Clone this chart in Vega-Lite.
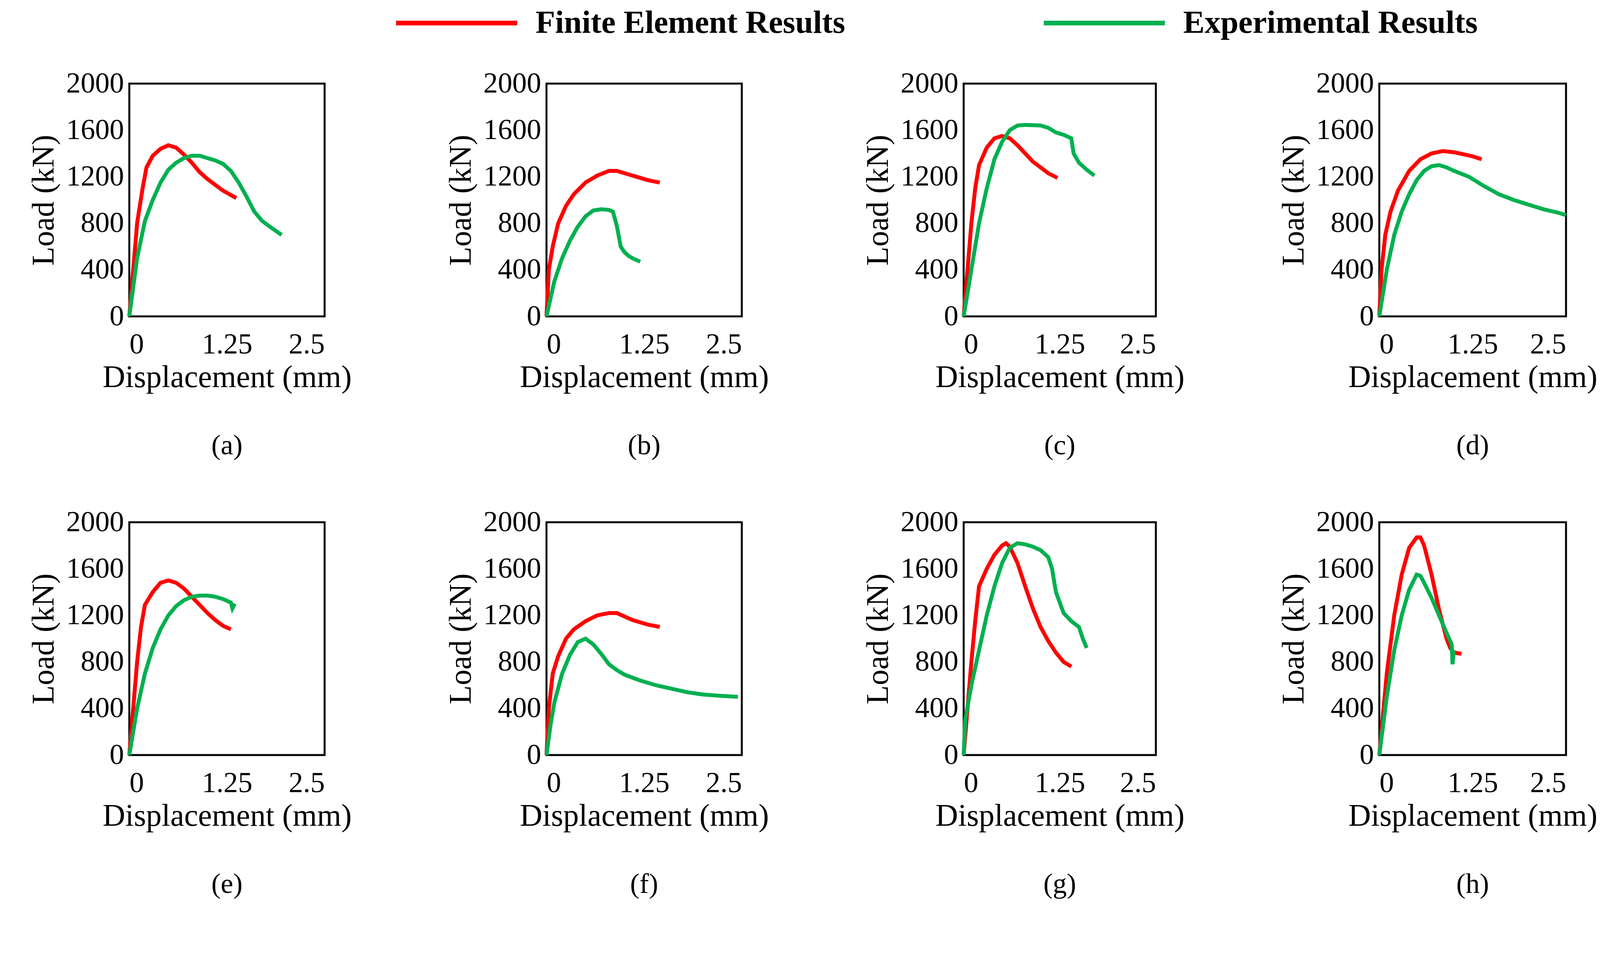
{
"$schema":"https://vega.github.io/schema/vega-lite/v6.json",
"background":"white",
"padding":{"left":69,"top":18,"right":0,"bottom":0},
"config":{"font":"Liberation Serif","view":{"stroke":"black","strokeWidth":5},
"axis":{"grid":false,"domain":false,"ticks":false,"labelFont":"Liberation Serif","titleFont":"Liberation Serif","labelFontSize":74,"titleFontSize":80,"titleFontWeight":"normal","labelColor":"black","titleColor":"black","labelPadding":14},
"axisX":{"labelPadding":36,"titlePadding":8},
"axisY":{"titlePadding":16},
"title":{"font":"Liberation Serif","fontSize":72,"fontWeight":"normal","orient":"bottom","offset":100,"color":"black"},
"legend":{"orient":"none","legendX":797,"legendY":-196,"direction":"horizontal","symbolType":"M-5,0H5","symbolSize":3844,"symbolStrokeWidth":12,"labelFont":"Liberation Serif","labelFontSize":82,"labelFontWeight":"bold","labelColor":"black","labelLimit":2000,"columnPadding":484,"labelOffset":161,"title":null}},
"data":{"values":[
{"p":"a","s":"Finite Element Results","x":0,"y":0},{"p":"a","s":"Finite Element Results","x":0.05,"y":400},{"p":"a","s":"Finite Element Results","x":0.1,"y":800},{"p":"a","s":"Finite Element Results","x":0.17,"y":1100},{"p":"a","s":"Finite Element Results","x":0.22,"y":1280},{"p":"a","s":"Finite Element Results","x":0.3,"y":1380},{"p":"a","s":"Finite Element Results","x":0.4,"y":1440},{"p":"a","s":"Finite Element Results","x":0.5,"y":1470},{"p":"a","s":"Finite Element Results","x":0.6,"y":1450},{"p":"a","s":"Finite Element Results","x":0.7,"y":1390},{"p":"a","s":"Finite Element Results","x":0.8,"y":1320},{"p":"a","s":"Finite Element Results","x":0.9,"y":1240},{"p":"a","s":"Finite Element Results","x":1.0,"y":1180},{"p":"a","s":"Finite Element Results","x":1.1,"y":1130},{"p":"a","s":"Finite Element Results","x":1.2,"y":1080},{"p":"a","s":"Finite Element Results","x":1.37,"y":1016},
{"p":"a","s":"Experimental Results","x":0,"y":0},{"p":"a","s":"Experimental Results","x":0.05,"y":250},{"p":"a","s":"Experimental Results","x":0.1,"y":500},{"p":"a","s":"Experimental Results","x":0.2,"y":820},{"p":"a","s":"Experimental Results","x":0.3,"y":1000},{"p":"a","s":"Experimental Results","x":0.4,"y":1150},{"p":"a","s":"Experimental Results","x":0.5,"y":1260},{"p":"a","s":"Experimental Results","x":0.6,"y":1320},{"p":"a","s":"Experimental Results","x":0.7,"y":1360},{"p":"a","s":"Experimental Results","x":0.8,"y":1380},{"p":"a","s":"Experimental Results","x":0.9,"y":1380},{"p":"a","s":"Experimental Results","x":1.0,"y":1360},{"p":"a","s":"Experimental Results","x":1.1,"y":1340},{"p":"a","s":"Experimental Results","x":1.2,"y":1310},{"p":"a","s":"Experimental Results","x":1.3,"y":1250},{"p":"a","s":"Experimental Results","x":1.4,"y":1150},{"p":"a","s":"Experimental Results","x":1.5,"y":1030},{"p":"a","s":"Experimental Results","x":1.6,"y":900},{"p":"a","s":"Experimental Results","x":1.7,"y":820},{"p":"a","s":"Experimental Results","x":1.8,"y":770},{"p":"a","s":"Experimental Results","x":1.95,"y":700},
{"p":"b","s":"Finite Element Results","x":0,"y":0},{"p":"b","s":"Finite Element Results","x":0.03,"y":400},{"p":"b","s":"Finite Element Results","x":0.08,"y":600},{"p":"b","s":"Finite Element Results","x":0.15,"y":800},{"p":"b","s":"Finite Element Results","x":0.25,"y":950},{"p":"b","s":"Finite Element Results","x":0.35,"y":1050},{"p":"b","s":"Finite Element Results","x":0.5,"y":1150},{"p":"b","s":"Finite Element Results","x":0.65,"y":1210},{"p":"b","s":"Finite Element Results","x":0.8,"y":1250},{"p":"b","s":"Finite Element Results","x":0.9,"y":1250},{"p":"b","s":"Finite Element Results","x":1.0,"y":1230},{"p":"b","s":"Finite Element Results","x":1.1,"y":1210},{"p":"b","s":"Finite Element Results","x":1.2,"y":1190},{"p":"b","s":"Finite Element Results","x":1.3,"y":1170},{"p":"b","s":"Finite Element Results","x":1.45,"y":1150},
{"p":"b","s":"Experimental Results","x":0,"y":0},{"p":"b","s":"Experimental Results","x":0.05,"y":150},{"p":"b","s":"Experimental Results","x":0.1,"y":300},{"p":"b","s":"Experimental Results","x":0.2,"y":500},{"p":"b","s":"Experimental Results","x":0.3,"y":650},{"p":"b","s":"Experimental Results","x":0.4,"y":770},{"p":"b","s":"Experimental Results","x":0.5,"y":860},{"p":"b","s":"Experimental Results","x":0.6,"y":910},{"p":"b","s":"Experimental Results","x":0.7,"y":920},{"p":"b","s":"Experimental Results","x":0.8,"y":915},{"p":"b","s":"Experimental Results","x":0.85,"y":900},{"p":"b","s":"Experimental Results","x":0.9,"y":780},{"p":"b","s":"Experimental Results","x":0.95,"y":600},{"p":"b","s":"Experimental Results","x":1.0,"y":550},{"p":"b","s":"Experimental Results","x":1.05,"y":520},{"p":"b","s":"Experimental Results","x":1.1,"y":500},{"p":"b","s":"Experimental Results","x":1.2,"y":470},
{"p":"c","s":"Finite Element Results","x":0,"y":0},{"p":"c","s":"Finite Element Results","x":0.05,"y":400},{"p":"c","s":"Finite Element Results","x":0.1,"y":800},{"p":"c","s":"Finite Element Results","x":0.15,"y":1100},{"p":"c","s":"Finite Element Results","x":0.2,"y":1300},{"p":"c","s":"Finite Element Results","x":0.3,"y":1450},{"p":"c","s":"Finite Element Results","x":0.4,"y":1530},{"p":"c","s":"Finite Element Results","x":0.5,"y":1550},{"p":"c","s":"Finite Element Results","x":0.6,"y":1530},{"p":"c","s":"Finite Element Results","x":0.7,"y":1470},{"p":"c","s":"Finite Element Results","x":0.8,"y":1400},{"p":"c","s":"Finite Element Results","x":0.9,"y":1330},{"p":"c","s":"Finite Element Results","x":1.0,"y":1280},{"p":"c","s":"Finite Element Results","x":1.1,"y":1230},{"p":"c","s":"Finite Element Results","x":1.22,"y":1190},
{"p":"c","s":"Experimental Results","x":0,"y":0},{"p":"c","s":"Experimental Results","x":0.1,"y":400},{"p":"c","s":"Experimental Results","x":0.2,"y":800},{"p":"c","s":"Experimental Results","x":0.3,"y":1100},{"p":"c","s":"Experimental Results","x":0.4,"y":1350},{"p":"c","s":"Experimental Results","x":0.5,"y":1500},{"p":"c","s":"Experimental Results","x":0.6,"y":1600},{"p":"c","s":"Experimental Results","x":0.7,"y":1640},{"p":"c","s":"Experimental Results","x":0.8,"y":1645},{"p":"c","s":"Experimental Results","x":1.0,"y":1640},{"p":"c","s":"Experimental Results","x":1.1,"y":1620},{"p":"c","s":"Experimental Results","x":1.2,"y":1580},{"p":"c","s":"Experimental Results","x":1.3,"y":1560},{"p":"c","s":"Experimental Results","x":1.4,"y":1530},{"p":"c","s":"Experimental Results","x":1.43,"y":1400},{"p":"c","s":"Experimental Results","x":1.5,"y":1320},{"p":"c","s":"Experimental Results","x":1.6,"y":1260},{"p":"c","s":"Experimental Results","x":1.7,"y":1210},
{"p":"d","s":"Finite Element Results","x":0,"y":0},{"p":"d","s":"Finite Element Results","x":0.03,"y":400},{"p":"d","s":"Finite Element Results","x":0.08,"y":700},{"p":"d","s":"Finite Element Results","x":0.15,"y":900},{"p":"d","s":"Finite Element Results","x":0.25,"y":1080},{"p":"d","s":"Finite Element Results","x":0.4,"y":1250},{"p":"d","s":"Finite Element Results","x":0.55,"y":1350},{"p":"d","s":"Finite Element Results","x":0.7,"y":1400},{"p":"d","s":"Finite Element Results","x":0.85,"y":1420},{"p":"d","s":"Finite Element Results","x":1.0,"y":1410},{"p":"d","s":"Finite Element Results","x":1.15,"y":1390},{"p":"d","s":"Finite Element Results","x":1.25,"y":1375},{"p":"d","s":"Finite Element Results","x":1.37,"y":1350},
{"p":"d","s":"Experimental Results","x":0,"y":0},{"p":"d","s":"Experimental Results","x":0.05,"y":200},{"p":"d","s":"Experimental Results","x":0.1,"y":400},{"p":"d","s":"Experimental Results","x":0.2,"y":700},{"p":"d","s":"Experimental Results","x":0.3,"y":900},{"p":"d","s":"Experimental Results","x":0.4,"y":1050},{"p":"d","s":"Experimental Results","x":0.5,"y":1170},{"p":"d","s":"Experimental Results","x":0.6,"y":1250},{"p":"d","s":"Experimental Results","x":0.7,"y":1290},{"p":"d","s":"Experimental Results","x":0.8,"y":1300},{"p":"d","s":"Experimental Results","x":0.9,"y":1280},{"p":"d","s":"Experimental Results","x":1.0,"y":1250},{"p":"d","s":"Experimental Results","x":1.2,"y":1200},{"p":"d","s":"Experimental Results","x":1.4,"y":1120},{"p":"d","s":"Experimental Results","x":1.6,"y":1050},{"p":"d","s":"Experimental Results","x":1.8,"y":1000},{"p":"d","s":"Experimental Results","x":2.0,"y":960},{"p":"d","s":"Experimental Results","x":2.2,"y":920},{"p":"d","s":"Experimental Results","x":2.4,"y":890},{"p":"d","s":"Experimental Results","x":2.5,"y":870},
{"p":"e","s":"Finite Element Results","x":0,"y":0},{"p":"e","s":"Finite Element Results","x":0.05,"y":400},{"p":"e","s":"Finite Element Results","x":0.1,"y":800},{"p":"e","s":"Finite Element Results","x":0.15,"y":1100},{"p":"e","s":"Finite Element Results","x":0.2,"y":1290},{"p":"e","s":"Finite Element Results","x":0.3,"y":1400},{"p":"e","s":"Finite Element Results","x":0.4,"y":1480},{"p":"e","s":"Finite Element Results","x":0.5,"y":1500},{"p":"e","s":"Finite Element Results","x":0.6,"y":1480},{"p":"e","s":"Finite Element Results","x":0.7,"y":1430},{"p":"e","s":"Finite Element Results","x":0.8,"y":1360},{"p":"e","s":"Finite Element Results","x":0.9,"y":1290},{"p":"e","s":"Finite Element Results","x":1.0,"y":1220},{"p":"e","s":"Finite Element Results","x":1.1,"y":1160},{"p":"e","s":"Finite Element Results","x":1.2,"y":1110},{"p":"e","s":"Finite Element Results","x":1.3,"y":1080},
{"p":"e","s":"Experimental Results","x":0,"y":0},{"p":"e","s":"Experimental Results","x":0.05,"y":200},{"p":"e","s":"Experimental Results","x":0.1,"y":400},{"p":"e","s":"Experimental Results","x":0.2,"y":700},{"p":"e","s":"Experimental Results","x":0.3,"y":920},{"p":"e","s":"Experimental Results","x":0.4,"y":1080},{"p":"e","s":"Experimental Results","x":0.5,"y":1200},{"p":"e","s":"Experimental Results","x":0.6,"y":1280},{"p":"e","s":"Experimental Results","x":0.7,"y":1330},{"p":"e","s":"Experimental Results","x":0.8,"y":1360},{"p":"e","s":"Experimental Results","x":0.9,"y":1370},{"p":"e","s":"Experimental Results","x":1.0,"y":1370},{"p":"e","s":"Experimental Results","x":1.1,"y":1360},{"p":"e","s":"Experimental Results","x":1.2,"y":1340},{"p":"e","s":"Experimental Results","x":1.3,"y":1310},{"p":"e","s":"Experimental Results","x":1.32,"y":1260},{"p":"e","s":"Experimental Results","x":1.35,"y":1300},
{"p":"f","s":"Finite Element Results","x":0,"y":0},{"p":"f","s":"Finite Element Results","x":0.03,"y":400},{"p":"f","s":"Finite Element Results","x":0.08,"y":700},{"p":"f","s":"Finite Element Results","x":0.15,"y":850},{"p":"f","s":"Finite Element Results","x":0.25,"y":1000},{"p":"f","s":"Finite Element Results","x":0.35,"y":1080},{"p":"f","s":"Finite Element Results","x":0.5,"y":1150},{"p":"f","s":"Finite Element Results","x":0.65,"y":1200},{"p":"f","s":"Finite Element Results","x":0.8,"y":1220},{"p":"f","s":"Finite Element Results","x":0.9,"y":1220},{"p":"f","s":"Finite Element Results","x":1.0,"y":1190},{"p":"f","s":"Finite Element Results","x":1.1,"y":1160},{"p":"f","s":"Finite Element Results","x":1.2,"y":1140},{"p":"f","s":"Finite Element Results","x":1.3,"y":1120},{"p":"f","s":"Finite Element Results","x":1.45,"y":1100},
{"p":"f","s":"Experimental Results","x":0,"y":0},{"p":"f","s":"Experimental Results","x":0.05,"y":250},{"p":"f","s":"Experimental Results","x":0.1,"y":450},{"p":"f","s":"Experimental Results","x":0.2,"y":700},{"p":"f","s":"Experimental Results","x":0.3,"y":860},{"p":"f","s":"Experimental Results","x":0.4,"y":970},{"p":"f","s":"Experimental Results","x":0.5,"y":1000},{"p":"f","s":"Experimental Results","x":0.6,"y":950},{"p":"f","s":"Experimental Results","x":0.7,"y":870},{"p":"f","s":"Experimental Results","x":0.8,"y":780},{"p":"f","s":"Experimental Results","x":0.9,"y":730},{"p":"f","s":"Experimental Results","x":1.0,"y":690},{"p":"f","s":"Experimental Results","x":1.2,"y":640},{"p":"f","s":"Experimental Results","x":1.4,"y":600},{"p":"f","s":"Experimental Results","x":1.6,"y":570},{"p":"f","s":"Experimental Results","x":1.8,"y":540},{"p":"f","s":"Experimental Results","x":2.0,"y":520},{"p":"f","s":"Experimental Results","x":2.2,"y":510},{"p":"f","s":"Experimental Results","x":2.45,"y":500},
{"p":"g","s":"Finite Element Results","x":0,"y":0},{"p":"g","s":"Finite Element Results","x":0.05,"y":400},{"p":"g","s":"Finite Element Results","x":0.1,"y":800},{"p":"g","s":"Finite Element Results","x":0.15,"y":1150},{"p":"g","s":"Finite Element Results","x":0.2,"y":1450},{"p":"g","s":"Finite Element Results","x":0.3,"y":1600},{"p":"g","s":"Finite Element Results","x":0.4,"y":1720},{"p":"g","s":"Finite Element Results","x":0.5,"y":1800},{"p":"g","s":"Finite Element Results","x":0.55,"y":1820},{"p":"g","s":"Finite Element Results","x":0.6,"y":1790},{"p":"g","s":"Finite Element Results","x":0.7,"y":1650},{"p":"g","s":"Finite Element Results","x":0.8,"y":1450},{"p":"g","s":"Finite Element Results","x":0.9,"y":1260},{"p":"g","s":"Finite Element Results","x":1.0,"y":1100},{"p":"g","s":"Finite Element Results","x":1.1,"y":980},{"p":"g","s":"Finite Element Results","x":1.2,"y":880},{"p":"g","s":"Finite Element Results","x":1.3,"y":800},{"p":"g","s":"Finite Element Results","x":1.4,"y":760},
{"p":"g","s":"Experimental Results","x":0,"y":0},{"p":"g","s":"Experimental Results","x":0.02,"y":300},{"p":"g","s":"Experimental Results","x":0.1,"y":600},{"p":"g","s":"Experimental Results","x":0.2,"y":900},{"p":"g","s":"Experimental Results","x":0.3,"y":1200},{"p":"g","s":"Experimental Results","x":0.4,"y":1450},{"p":"g","s":"Experimental Results","x":0.5,"y":1650},{"p":"g","s":"Experimental Results","x":0.6,"y":1780},{"p":"g","s":"Experimental Results","x":0.7,"y":1820},{"p":"g","s":"Experimental Results","x":0.8,"y":1810},{"p":"g","s":"Experimental Results","x":0.9,"y":1790},{"p":"g","s":"Experimental Results","x":1.0,"y":1760},{"p":"g","s":"Experimental Results","x":1.1,"y":1700},{"p":"g","s":"Experimental Results","x":1.15,"y":1600},{"p":"g","s":"Experimental Results","x":1.2,"y":1400},{"p":"g","s":"Experimental Results","x":1.3,"y":1220},{"p":"g","s":"Experimental Results","x":1.4,"y":1150},{"p":"g","s":"Experimental Results","x":1.5,"y":1100},{"p":"g","s":"Experimental Results","x":1.55,"y":1000},{"p":"g","s":"Experimental Results","x":1.6,"y":920},
{"p":"h","s":"Finite Element Results","x":0,"y":0},{"p":"h","s":"Finite Element Results","x":0.05,"y":350},{"p":"h","s":"Finite Element Results","x":0.1,"y":700},{"p":"h","s":"Finite Element Results","x":0.2,"y":1200},{"p":"h","s":"Finite Element Results","x":0.3,"y":1550},{"p":"h","s":"Finite Element Results","x":0.4,"y":1780},{"p":"h","s":"Finite Element Results","x":0.5,"y":1870},{"p":"h","s":"Finite Element Results","x":0.55,"y":1870},{"p":"h","s":"Finite Element Results","x":0.6,"y":1800},{"p":"h","s":"Finite Element Results","x":0.7,"y":1550},{"p":"h","s":"Finite Element Results","x":0.8,"y":1250},{"p":"h","s":"Finite Element Results","x":0.9,"y":1000},{"p":"h","s":"Finite Element Results","x":0.95,"y":920},{"p":"h","s":"Finite Element Results","x":1.0,"y":880},{"p":"h","s":"Finite Element Results","x":1.1,"y":870},
{"p":"h","s":"Experimental Results","x":0,"y":0},{"p":"h","s":"Experimental Results","x":0.05,"y":250},{"p":"h","s":"Experimental Results","x":0.1,"y":500},{"p":"h","s":"Experimental Results","x":0.2,"y":900},{"p":"h","s":"Experimental Results","x":0.3,"y":1200},{"p":"h","s":"Experimental Results","x":0.4,"y":1420},{"p":"h","s":"Experimental Results","x":0.5,"y":1550},{"p":"h","s":"Experimental Results","x":0.55,"y":1540},{"p":"h","s":"Experimental Results","x":0.6,"y":1480},{"p":"h","s":"Experimental Results","x":0.7,"y":1350},{"p":"h","s":"Experimental Results","x":0.8,"y":1200},{"p":"h","s":"Experimental Results","x":0.9,"y":1050},{"p":"h","s":"Experimental Results","x":0.97,"y":950},{"p":"h","s":"Experimental Results","x":0.98,"y":780},{"p":"h","s":"Experimental Results","x":1.0,"y":900}
]},
"spacing":117,
"vconcat":[
{"spacing":234,"hconcat":[
{"width":500,"height":596,"title":"(a)","transform":[{"filter":"datum.p=='a'"}],"mark":{"type":"line","strokeWidth":10},"encoding":{"x":{"field":"x","type":"quantitative","scale":{"domain":[0,2.5]},"axis":{"values":[0,1.25,2.5],"format":".3~g"},"title":"Displacement (mm)"},"y":{"field":"y","type":"quantitative","scale":{"domain":[0,2000]},"axis":{"values":[0,400,800,1200,1600,2000],"format":"d"},"title":"Load (kN)"},"color":{"field":"s","type":"nominal","scale":{"domain":["Finite Element Results","Experimental Results"],"range":["#ff0000","#00b050"]}}}},
{"width":500,"height":596,"title":"(b)","transform":[{"filter":"datum.p=='b'"}],"mark":{"type":"line","strokeWidth":10},"encoding":{"x":{"field":"x","type":"quantitative","scale":{"domain":[0,2.5]},"axis":{"values":[0,1.25,2.5],"format":".3~g"},"title":"Displacement (mm)"},"y":{"field":"y","type":"quantitative","scale":{"domain":[0,2000]},"axis":{"values":[0,400,800,1200,1600,2000],"format":"d"},"title":"Load (kN)"},"color":{"field":"s","type":"nominal","scale":{"domain":["Finite Element Results","Experimental Results"],"range":["#ff0000","#00b050"]}}}},
{"width":492,"height":596,"title":"(c)","transform":[{"filter":"datum.p=='c'"}],"mark":{"type":"line","strokeWidth":10},"encoding":{"x":{"field":"x","type":"quantitative","scale":{"domain":[0,2.5]},"axis":{"values":[0,1.25,2.5],"format":".3~g"},"title":"Displacement (mm)"},"y":{"field":"y","type":"quantitative","scale":{"domain":[0,2000]},"axis":{"values":[0,400,800,1200,1600,2000],"format":"d"},"title":"Load (kN)"},"color":{"field":"s","type":"nominal","scale":{"domain":["Finite Element Results","Experimental Results"],"range":["#ff0000","#00b050"]}}}},
{"width":478,"height":596,"title":"(d)","transform":[{"filter":"datum.p=='d'"}],"mark":{"type":"line","strokeWidth":10},"encoding":{"x":{"field":"x","type":"quantitative","scale":{"domain":[0,2.5]},"axis":{"values":[0,1.25,2.5],"format":".3~g"},"title":"Displacement (mm)"},"y":{"field":"y","type":"quantitative","scale":{"domain":[0,2000]},"axis":{"values":[0,400,800,1200,1600,2000],"format":"d"},"title":"Load (kN)"},"color":{"field":"s","type":"nominal","scale":{"domain":["Finite Element Results","Experimental Results"],"range":["#ff0000","#00b050"]}}}}
]},
{"spacing":234,"hconcat":[
{"width":500,"height":596,"title":"(e)","transform":[{"filter":"datum.p=='e'"}],"mark":{"type":"line","strokeWidth":10},"encoding":{"x":{"field":"x","type":"quantitative","scale":{"domain":[0,2.5]},"axis":{"values":[0,1.25,2.5],"format":".3~g"},"title":"Displacement (mm)"},"y":{"field":"y","type":"quantitative","scale":{"domain":[0,2000]},"axis":{"values":[0,400,800,1200,1600,2000],"format":"d"},"title":"Load (kN)"},"color":{"field":"s","type":"nominal","scale":{"domain":["Finite Element Results","Experimental Results"],"range":["#ff0000","#00b050"]}}}},
{"width":500,"height":596,"title":"(f)","transform":[{"filter":"datum.p=='f'"}],"mark":{"type":"line","strokeWidth":10},"encoding":{"x":{"field":"x","type":"quantitative","scale":{"domain":[0,2.5]},"axis":{"values":[0,1.25,2.5],"format":".3~g"},"title":"Displacement (mm)"},"y":{"field":"y","type":"quantitative","scale":{"domain":[0,2000]},"axis":{"values":[0,400,800,1200,1600,2000],"format":"d"},"title":"Load (kN)"},"color":{"field":"s","type":"nominal","scale":{"domain":["Finite Element Results","Experimental Results"],"range":["#ff0000","#00b050"]}}}},
{"width":492,"height":596,"title":"(g)","transform":[{"filter":"datum.p=='g'"}],"mark":{"type":"line","strokeWidth":10},"encoding":{"x":{"field":"x","type":"quantitative","scale":{"domain":[0,2.5]},"axis":{"values":[0,1.25,2.5],"format":".3~g"},"title":"Displacement (mm)"},"y":{"field":"y","type":"quantitative","scale":{"domain":[0,2000]},"axis":{"values":[0,400,800,1200,1600,2000],"format":"d"},"title":"Load (kN)"},"color":{"field":"s","type":"nominal","scale":{"domain":["Finite Element Results","Experimental Results"],"range":["#ff0000","#00b050"]}}}},
{"width":478,"height":596,"title":"(h)","transform":[{"filter":"datum.p=='h'"}],"mark":{"type":"line","strokeWidth":10},"encoding":{"x":{"field":"x","type":"quantitative","scale":{"domain":[0,2.5]},"axis":{"values":[0,1.25,2.5],"format":".3~g"},"title":"Displacement (mm)"},"y":{"field":"y","type":"quantitative","scale":{"domain":[0,2000]},"axis":{"values":[0,400,800,1200,1600,2000],"format":"d"},"title":"Load (kN)"},"color":{"field":"s","type":"nominal","scale":{"domain":["Finite Element Results","Experimental Results"],"range":["#ff0000","#00b050"]}}}}
]}
]
}
